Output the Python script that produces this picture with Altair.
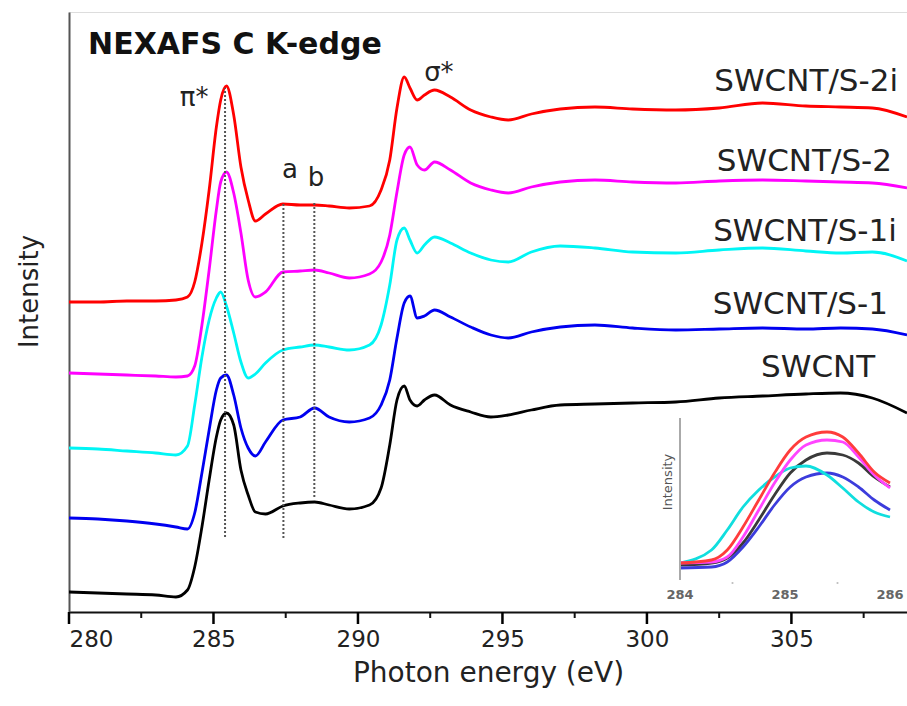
import altair as alt
import pandas as pd

# ---------------- main spectra (offset-stacked intensity, arbitrary units) ----------------
energy = [280, 281, 282, 283, 283.7, 284.1, 284.35, 284.6, 284.85, 285.1, 285.25, 285.45,
          285.7, 285.95, 286.2, 286.45, 286.8, 287.4, 288.0, 288.5, 289.0, 289.7, 290.4,
          290.8, 291.1, 291.35, 291.6, 291.8, 292.05, 292.3, 292.65, 293.2, 293.9, 294.6,
          295.2, 296.0, 297.0, 298.2, 299.5, 301.0, 302.5, 304.0, 305.5, 306.7, 307.8, 309.0]

swcnt = [20, 19, 18, 17, 15, 22, 45, 85, 132, 175, 192, 199, 187, 142, 117, 100, 98, 106,
         109, 110, 107, 103, 107, 124, 167, 212, 226, 212, 206, 212, 217, 207, 200, 195,
         197, 202, 207, 208, 209, 210, 214, 216, 218, 219, 214, 199]
s1 = [94, 93, 91, 88, 85, 83, 99, 139, 182, 222, 234, 237, 217, 184, 164, 156, 170, 192,
      195, 204, 195, 190, 194, 207, 232, 274, 309, 316, 294, 296, 302, 295, 285, 277,
      274, 280, 285, 287, 284, 282, 283, 284, 283, 284, 283, 277]
s1i = [164, 163, 161, 159, 157, 166, 207, 255, 292, 314, 320, 306, 279, 250, 234, 238,
       249, 262, 265, 267, 265, 262, 267, 287, 327, 372, 384, 372, 359, 367, 375, 369,
       359, 352, 350, 360, 366, 364, 360, 359, 362, 364, 361, 359, 360, 351]
s2 = [239, 238, 237, 236, 235, 236, 246, 287, 342, 402, 430, 440, 419, 379, 332, 315,
      320, 340, 341, 342, 339, 334, 338, 350, 377, 420, 457, 465, 447, 442, 450, 442,
      429, 422, 419, 425, 430, 432, 430, 429, 431, 432, 431, 430, 429, 424]
s2i = [310, 310, 311, 311, 312, 315, 330, 369, 422, 485, 512, 526, 497, 445, 412, 391,
       398, 408, 407, 407, 406, 404, 406, 422, 452, 504, 535, 524, 512, 517, 522, 515,
       502, 495, 492, 498, 503, 505, 503, 502, 504, 509, 506, 505, 504, 495]

series_names = ["SWCNT", "SWCNT/S-1", "SWCNT/S-1i", "SWCNT/S-2", "SWCNT/S-2i"]
series_values = [swcnt, s1, s1i, s2, s2i]
series_colors = ["#000000", "#0000f0", "#00f5f5", "#ff00ff", "#ff0000"]
series_widths = [2.8, 2.8, 3.8, 2.8, 2.8]

# ---------------- inset (pi* region, 284-286 eV) ----------------
inset_energy = [284.0, 284.3, 284.45, 284.6, 284.75, 284.9, 285.05, 285.2, 285.4, 285.55,
                285.7, 285.85, 286.0]
inset_swcnt = [7, 9, 14, 29, 52, 77, 99, 112, 119, 117, 109, 95, 85]
inset_s1 = [4, 5, 10, 25, 45, 67, 85, 95, 99, 95, 85, 72, 62]
inset_s1i = [9, 22, 42, 65, 82, 95, 104, 106, 97, 84, 70, 60, 55]
inset_s2 = [9, 10, 15, 35, 62, 89, 112, 127, 132, 130, 115, 97, 84]
inset_s2i = [9, 12, 22, 45, 72, 99, 122, 135, 140, 135, 119, 100, 89]
inset_values = [inset_swcnt, inset_s1, inset_s1i, inset_s2, inset_s2i]
inset_colors = ["#3a3a3a", "#3c3cdc", "#10dede", "#ff44ff", "#ff3c3c"]
inset_ticks = [284, 285, 286]
inset_minor = [284.5, 285.5]

# ---------------- axes ----------------
x_ticks = [280, 285, 290, 295, 300, 305]
x_minor = [282.5, 287.5, 292.5, 297.5, 302.5, 307.5]

# ---------------- annotations ----------------
curve_label_E = [307.9, 308.34, 308.65, 308.48, 308.69]
curve_label_I = [244, 307, 380, 450, 530]
peak_labels = ["π*", "a", "b", "σ*"]
peak_label_E = [284.33, 287.65, 288.55, 292.8]
peak_label_I = [514, 442, 434, 539]
guide_E = [285.4, 287.42, 288.49]
guide_top = [524, 409, 409]
guide_bottom = [75, 74, 115]

FONT = "DejaVu Sans"

# ---------------- tables ----------------
rows = []
for name, vals in zip(series_names, series_values):
    for e, v in zip(energy, vals):
        rows.append({"series": name, "E": e, "I": v})
spectra = pd.DataFrame(rows)

irows = []
for name, vals in zip(series_names, inset_values):
    for e, v in zip(inset_energy, vals):
        irows.append({"series": name, "E": e, "J": v})
inset_df = pd.DataFrame(irows)

labels_df = pd.DataFrame({"text": series_names, "E": curve_label_E, "I": curve_label_I})
peaks_df = pd.DataFrame({"text": peak_labels, "E": peak_label_E, "I": peak_label_I})
guides_df = pd.DataFrame({"E": guide_E, "I": guide_bottom, "I2": guide_top})
# tick marks below the axis line (y units: 1 unit = 1 px)
major_df = pd.DataFrame({"E": [float(v) for v in x_ticks], "I": [0.0] * len(x_ticks),
                         "I2": [-12.0] * len(x_ticks)})
minor_df = pd.DataFrame({"E": x_minor, "I": [0.0] * len(x_minor), "I2": [-6.0] * len(x_minor)})
title_df = pd.DataFrame({"text": ["NEXAFS C K-edge"], "E": [280.66], "I": [567]})

# ---------------- main chart ----------------
xs = alt.Scale(domain=[280, 309], nice=False, zero=False)
ys = alt.Scale(domain=[0, 600], nice=False, zero=False)
xaxis = alt.Axis(values=x_ticks, ticks=False,
                 domainColor="#111", domainWidth=2, labelFont=FONT, labelFontSize=23,
                 labelColor="#222", labelPadding=16, title="Photon energy (eV)",
                 titleFont=FONT, titleFontSize=28, titleFontWeight="normal",
                 titleColor="#222", titlePadding=8, grid=False)
yaxis = alt.Axis(ticks=False, labels=False, domainColor="#555", domainWidth=2,
                 title="Intensity", titleFont=FONT, titleFontSize=26,
                 titleFontWeight="normal", titleColor="#222", titlePadding=27,
                 titleY=279, grid=False)

X = alt.X("E:Q", scale=xs, axis=xaxis)
Y = alt.Y("I:Q", scale=ys, axis=yaxis)

lines = alt.Chart(spectra).mark_line(interpolate="monotone").encode(
    x=X, y=Y,
    color=alt.Color("series:N", scale=alt.Scale(domain=series_names, range=series_colors), legend=None),
    strokeWidth=alt.StrokeWidth("series:N", scale=alt.Scale(domain=series_names, range=series_widths), legend=None),
)

guides = alt.Chart(guides_df).mark_rule(color="#555", strokeWidth=2, strokeDash=[2, 2]).encode(
    x=X, y=Y, y2="I2:Q"
)

major_ticks = alt.Chart(major_df).mark_rule(color="#000", strokeWidth=2.5).encode(
    x=X, y=Y, y2="I2:Q"
)
minor_ticks = alt.Chart(minor_df).mark_rule(color="#111", strokeWidth=2).encode(
    x=X, y=Y, y2="I2:Q"
)

curve_labels = alt.Chart(labels_df).mark_text(
    font=FONT, fontSize=31, align="right", baseline="middle", color="#222"
).encode(x=X, y=Y, text="text:N")

peak_text = alt.Chart(peaks_df).mark_text(
    font=FONT, fontSize=26, align="center", baseline="middle", color="#222"
).encode(x=X, y=Y, text="text:N")

title_text = alt.Chart(title_df).mark_text(
    font=FONT, fontSize=30, fontWeight="bold", align="left", baseline="middle", color="#111"
).encode(x=X, y=Y, text="text:N")

main = alt.layer(lines, guides, major_ticks, minor_ticks, curve_labels, peak_text, title_text)

# ---------------- inset chart ----------------
ixs = alt.Scale(domain=[284, 286], range=[611, 821], nice=False, zero=False)
iys = alt.Scale(domain=[0, 152], range=[560, 408], nice=False, zero=False)
IX = alt.X("E:Q", scale=ixs, axis=None)

inset_lines = alt.Chart(inset_df).mark_line(interpolate="monotone", strokeWidth=2.8).encode(
    x=IX,
    y=alt.Y("J:Q", scale=iys, axis=None),
    color=alt.Color("series:N", scale=alt.Scale(domain=series_names, range=inset_colors), legend=None),
)

inset_axis = alt.Chart(pd.DataFrame({"E": [inset_ticks[0]]})).mark_rule(
    color="#aaa", strokeWidth=2
).encode(x=IX, y=alt.value(406), y2=alt.value(568))

inset_tick_labels = alt.Chart(pd.DataFrame({"E": inset_ticks})).mark_text(
    font=FONT, fontSize=13, fontWeight="bold", color="#666", baseline="middle"
).encode(x=IX, y=alt.value(583), text=alt.Text("E:Q", format="d"))

inset_minor_marks = alt.Chart(pd.DataFrame({"E": inset_minor})).mark_point(
    shape="square", size=3, filled=True, color="#999"
).encode(x=IX, y=alt.value(571))

inset_title = alt.Chart(pd.DataFrame({"text": ["Intensity"]})).mark_text(
    font=FONT, fontSize=13, angle=270, color="#555", baseline="middle", align="center"
).encode(x=alt.value(599), y=alt.value(470), text="text:N")

inset = alt.layer(inset_lines, inset_axis, inset_tick_labels, inset_minor_marks, inset_title)

chart = alt.layer(main, inset).resolve_scale(
    x="independent", y="independent", color="independent", strokeWidth="independent"
).properties(
    width=838, height=600,
    padding={"left": 69, "top": 12, "right": 0, "bottom": 94},
    autosize=alt.AutoSizeParams(type="none"),
).configure_view(stroke="#777", strokeWidth=2).configure(background="white")

chart.save("out.html", embed_options={"renderer": "svg", "actions": False})
